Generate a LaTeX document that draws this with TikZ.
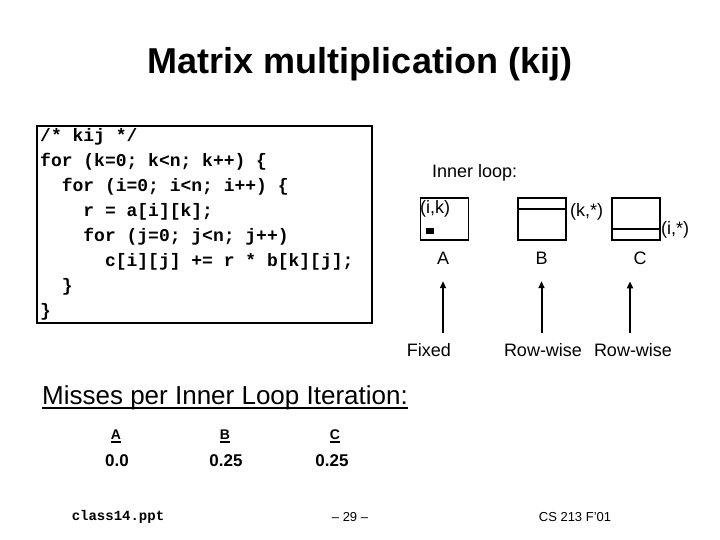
\documentclass[tikz,border=0pt]{standalone}
\usepackage{fontspec}
\setmainfont{Liberation Sans}
\newfontfamily\codefont{Liberation Mono}
\usetikzlibrary{arrows.meta,positioning}
\tikzset{
  >={Triangle[length=7pt,width=6pt]},
  heading/.style={font=\bfseries\fontsize{36}{40}\selectfont,inner sep=0pt,anchor=base},
  codebox/.style={draw,line width=2.4pt,anchor=north west,minimum width=335pt,minimum height=197pt,inner sep=0pt},
  codeline/.style={font=\codefont\bfseries\fontsize{18}{20}\selectfont,inner sep=0pt,anchor=base west},
  matbox/.style={draw,line width=1.6pt,minimum width=48pt,minimum height=42pt,inner sep=0pt},
  rowline/.style={line width=1.6pt},
  idx/.style={font=\fontsize{18}{20}\selectfont,inner sep=0pt,anchor=base west},
  lbl/.style={font=\fontsize{18}{20}\selectfont,inner sep=0pt,anchor=base},
  pointer/.style={->,line width=2pt},
  misshead/.style={font=\fontsize{26}{29}\selectfont,inner sep=0pt,anchor=base west},
  misscol/.style={font=\bfseries\fontsize{14}{16}\selectfont,inner sep=0pt,anchor=base},
  missval/.style={font=\bfseries\fontsize{17}{19}\selectfont,inner sep=0pt,anchor=base},
  footer/.style={font=\fontsize{13}{15}\selectfont,inner sep=0pt,anchor=base}
}
\begin{document}
\begin{tikzpicture}[x=1pt,y=1pt]
  \useasboundingbox (0,0) rectangle (720,540);

  \node[heading] (title) at (360,466) {Matrix multiplication (kij)};

  % code of the kij loop
  \node[codebox] (codebox) at (36,415) {};
  \foreach \ln [count=\i] in {{/* kij */},
      {for (k=0; k<n; k++) \{},
      {~~for (i=0; i<n; i++) \{},
      {~~~~r = a[i][k];},
      {~~~~for (j=0; j<n; j++)},
      {~~~~~~c[i][j] += r * b[k][j];},
      {~~\}},
      {\}}}
    \node[codeline] (cl\i) at (40,423-25*\i) {\ln};

  % inner loop access patterns
  \node[idx] (inner) at (432,362) {Inner loop:};
  \node[matbox] (matA) at (444.5,321) {};
  \node[matbox,right=48pt of matA] (matB) {};
  \node[matbox,right=44pt of matB] (matC) {};

  \node[idx] (ik) at (420,326) {(i,k)};
  \node[draw,fill,minimum width=7pt,minimum height=5pt,inner sep=0pt] (elem) at (429.5,309.5) {};
  \draw[rowline] ([yshift=-12pt]matB.north west) -- ([yshift=-12pt]matB.north east);
  \node[idx] (kstar) at (570,323.5) {(k,*)};
  \draw[rowline] ([yshift=12pt]matC.south west) -- ([yshift=12pt]matC.south east);
  \node[idx] (istar) at (661,305.5) {(i,*)};

  \node[lbl] (lblA) at (443,275) {A};
  \node[lbl] (lblB) at (541.5,275) {B};
  \node[lbl] (lblC) at (640,275) {C};

  \coordinate (tailA) at (443,207);
  \coordinate (tailB) at (541.5,207);
  \coordinate (tailC) at (630,207);
  \draw[pointer,shorten >=16pt] (tailA) -- (tailA |- lblA.south);
  \draw[pointer,shorten >=16pt] (tailB) -- (tailB |- lblB.south);
  \draw[pointer,shorten >=16pt] (tailC) -- (tailC |- lblC.south);

  \node[lbl] (fixed) at (429,183) {Fixed};
  \node[lbl] (rowB) at (543,183) {Row-wise};
  \node[lbl] (rowC) at (633,183) {Row-wise};

  % misses table
  \node[misshead] (misses) at (42,135) {Misses per Inner Loop Iteration:};
  \draw[line width=1.4pt] ([yshift=-3pt]misses.base west) -- ([yshift=-3pt]misses.base east);
  \node[misscol] (colA) at (116,100) {A};
  \node[misscol] (colB) at (225,100) {B};
  \node[misscol] (colC) at (335,100) {C};
  \foreach \c in {colA,colB,colC}
    \draw[line width=1.2pt] ([yshift=-2pt]\c.base west) -- ([yshift=-2pt]\c.base east);
  \node[missval] (valA) at (117,73) {0.0};
  \node[missval] (valB) at (226,73) {0.25};
  \node[missval] (valC) at (332,73) {0.25};

  % slide footer
  \node[footer,font=\codefont\bfseries\fontsize{14}{16}\selectfont] (file) at (118,19) {class14.ppt};
  \node[footer] (page) at (350,18) {– 29 –};
  \node[footer] (course) at (575,18) {CS 213 F'01};
\end{tikzpicture}
\end{document}
